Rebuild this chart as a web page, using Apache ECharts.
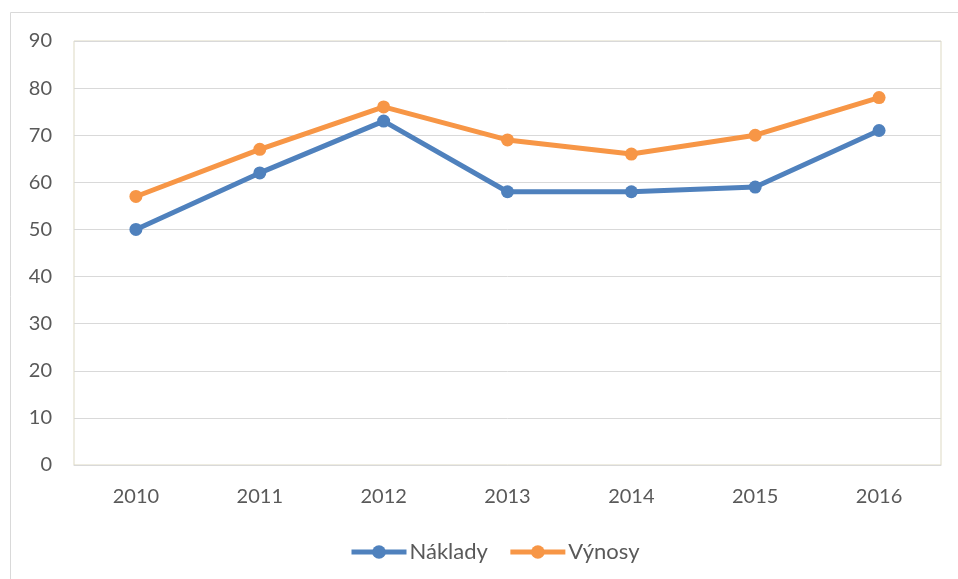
<!DOCTYPE html>
<html><head><meta charset="utf-8">
<script src="https://cdn.jsdelivr.net/npm/echarts@6/dist/echarts.min.js"></script>
<style>html,body{margin:0;padding:0;background:#fff}#c{width:958px;height:579px}</style>
</head><body><div id="c"></div>
<script>
const categories = ['2010','2011','2012','2013','2014','2015','2016'];
const naklady = [50, 62, 73, 58, 58, 59, 71];
const vynosy = [57, 67, 76, 69, 66, 70, 78];
const seriesNames = ['Náklady', 'Výnosy'];

const font = 'Lato, "Open Sans", sans-serif';
const chart = echarts.init(document.getElementById('c'));
chart.setOption({
  animation: false,
  graphic: [{type:'rect', shape:{x:10.5,y:12.5,width:960,height:600}, style:{fill:'none', stroke:'#d9d9d9', lineWidth:1}, z:-10}],
  grid: {left:74, right:17, top:41, bottom:114, show:true, borderColor:'#ddd9c3', borderWidth:1, containLabel:false},
  legend: {top: 536, left:344, itemWidth:55, itemHeight:17, itemGap:20,
    lineStyle:{width:5},
    textStyle:{fontFamily:font, fontSize:22, color:'#595959', padding:[0,0,0,-2]},
    data: seriesNames},
  xAxis: {type:'category', data:categories, boundaryGap:true,
    axisLine:{lineStyle:{color:'#d9d9d9'}}, axisTick:{show:false},
    axisLabel:{fontFamily:font, fontSize:20, color:'#595959', margin:22}},
  yAxis: {type:'value', min:0, max:90, interval:10,
    axisLine:{show:false}, axisTick:{show:false},
    splitLine:{lineStyle:{color:'#d9d9d9', width:1}},
    axisLabel:{fontFamily:font, fontSize:20, color:'#595959', margin:22}},
  series: [
    {name:seriesNames[0], type:'line', data:naklady, color:'#4F81BD', symbol:'circle', symbolSize:13,
     lineStyle:{width:5, color:'#4F81BD'}, itemStyle:{color:'#4F81BD'}},
    {name:seriesNames[1], type:'line', data:vynosy, color:'#F79646', symbol:'circle', symbolSize:13,
     lineStyle:{width:5, color:'#F79646'}, itemStyle:{color:'#F79646'}}
  ]
});
</script></body></html>
